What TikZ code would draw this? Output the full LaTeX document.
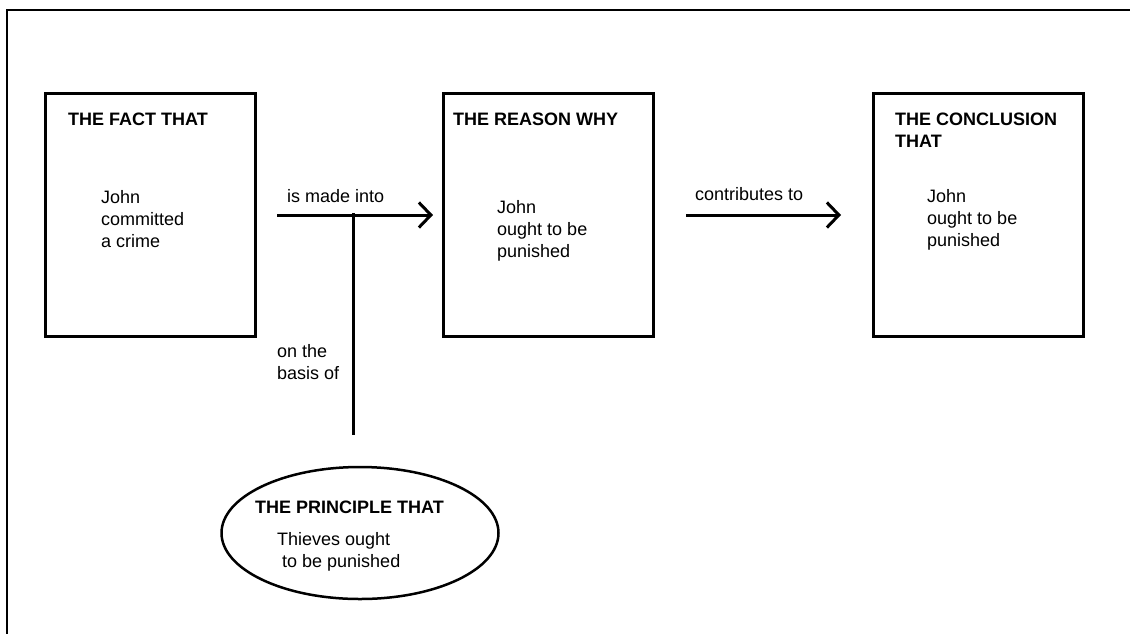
\documentclass[tikz,border=0pt]{standalone}
\usepackage{fontspec}
\setmainfont{Liberation Sans}
\usetikzlibrary{arrows.meta,shapes.geometric}
\begin{document}
\begin{tikzpicture}[x=1pt,y=-1pt,
  txt/.style={anchor=base west,inner sep=0pt,align=left,font=\fontsize{18}{22}\selectfont},
  ttl/.style={txt,font=\fontsize{18}{22}\selectfont\bfseries},
  box/.style={draw,line width=3pt,anchor=north west,minimum width=210pt,minimum height=243pt,inner sep=0pt},
  arr/.style={line width=3pt,-{Straight Barb[length=12pt,width=25pt,line width=3pt]}},
  conn/.style={line width=3pt}]
\useasboundingbox (0,0) rectangle (1130,633);
\draw[line width=2.5pt] (1131,10) -- (7,10) -- (7,634);
% boxes
\node[box] (b1) at (44,92) {};
\node[box] (b2) at (442,92) {};
\node[box] (b3) at (872,92) {};
% box texts (anchor = baseline of last line)
\node[ttl] (t1) at (68,125) {THE FACT THAT};
\node[txt] (x1) at (101,247) {John\\committed\\a crime};
\node[ttl] (t2) at (453,125) {THE REASON WHY};
\node[txt] (x2) at (497,257) {John\\ought to be\\punished};
\node[ttl] (t3) at (895,147) {THE CONCLUSION\\THAT};
\node[txt] (x3) at (927,246) {John\\ought to be\\punished};
% ellipse
\node[draw,ellipse,line width=2.5pt,minimum width=277pt,minimum height=132pt,inner sep=0pt] (ell) at (360,533) {};
\node[ttl] (t4) at (255,513) {THE PRINCIPLE THAT};
\node[txt] (x4) at (277,567) {Thieves ought\\\hspace*{5pt}to be punished};
% connectors
\draw[arr] ([xshift=20pt]b1.east) -- ([xshift=-9pt]b2.west);
\draw[arr] ([xshift=31pt]b2.east) -- ([xshift=-31pt]b3.west);
\coordinate (j) at (353,213);
\coordinate (je) at (353,435);
\draw[conn] (j) -- (je);
% labels
\node[txt] (l1) at (287,202) {is made into};
\node[txt] (l2) at (695,200) {contributes to};
\node[txt] (l3) at (277,379) {on the\\basis of};
\end{tikzpicture}
\end{document}
